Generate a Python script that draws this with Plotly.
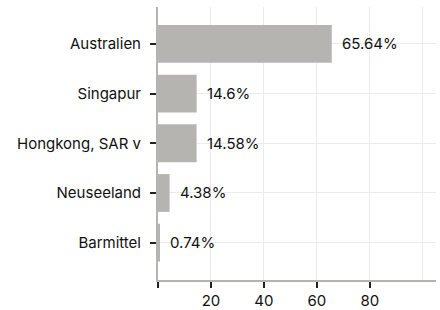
import plotly.graph_objects as go

categories = ["Australien", "Singapur", "Hongkong, SAR v", "Neuseeland", "Barmittel"]
values = [65.64, 14.6, 14.58, 4.38, 0.74]
labels = ["65.64%", "14.6%", "14.58%", "4.38%", "0.74%"]
x_ticks = [0, 20, 40, 60, 80]
x_tick_text = ["", "20", "40", "60", "80"]

FONT = "Inter"
fig = go.Figure(go.Bar(
    x=values, y=categories, orientation="h",
    marker=dict(color="#b5b4b0", line=dict(width=0)),
    width=0.76,
    hoverinfo="skip",
))

for v, c, t in zip(values, categories, labels):
    fig.add_annotation(
        x=v, y=c, text=t, showarrow=False, xanchor="left", xshift=8,
        font=dict(family=FONT, size=15, color="#111111"),
    )

fig.update_layout(
    width=440, height=310,
    margin=dict(l=158, r=4, t=7, b=30),
    paper_bgcolor="white", plot_bgcolor="white",
    font=dict(family=FONT, size=15, color="#111111"),
    showlegend=False,
)
fig.update_xaxes(
    range=[0, 105], tickvals=x_ticks, ticktext=x_tick_text,
    showgrid=True, gridcolor="#ebebeb", gridwidth=1,
    minor=dict(tickvals=[100], showgrid=True, gridcolor="#ebebeb", ticks=""),
    showline=True, linecolor="#b5b4b0", linewidth=2,
    ticks="outside", ticklen=6, tickcolor="#222222", tickwidth=2,
    zeroline=False, tickfont=dict(size=15), ticklabelstandoff=0,
    automargin=False,
)
fig.update_yaxes(
    categoryorder="array", categoryarray=categories[::-1],
    range=[-0.75, 4.74],
    showgrid=True, gridcolor="#ebebeb", gridwidth=1,
    showline=True, linecolor="#b5b4b0", linewidth=2,
    ticks="outside", ticklen=6, tickcolor="#222222", tickwidth=2,
    tickfont=dict(size=15), ticklabelstandoff=6, automargin=False,
)

fig.write_html("out.html", config={"displayModeBar": False},
               post_script="document.body.style.margin='0';")
